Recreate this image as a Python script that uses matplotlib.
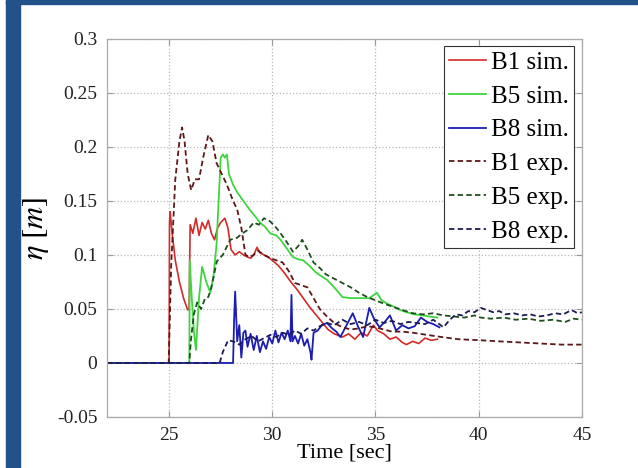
import matplotlib
matplotlib.use("Agg")
import matplotlib.pyplot as plt
from matplotlib.patches import Rectangle

# --- data ---
t_b1_sim = [22, 25.0, 25.02, 25.05, 25.15, 25.3, 25.5, 25.7, 25.9, 25.97, 26.02, 26.15, 26.3, 26.45,
            26.6, 26.75, 26.9, 27.05, 27.2, 27.35, 27.5, 27.7, 27.85, 28.0, 28.2, 28.4, 28.6, 28.8,
            28.95, 29.1, 29.26, 29.4, 29.6, 29.8, 30.0, 30.3, 30.6, 30.9, 31.2, 31.5, 31.8, 32.1,
            32.4, 32.7, 33.0, 33.4, 33.7, 34.0, 34.3, 34.6, 34.9, 35.1, 35.4, 35.7, 36.0, 36.3,
            36.5, 36.8, 37.1, 37.4, 37.7, 38.0]
eta_b1_sim = [0, 0, 0.13, 0.14, 0.12, 0.095, 0.075, 0.06, 0.049, 0.05, 0.128, 0.12, 0.134, 0.118,
              0.13, 0.124, 0.132, 0.12, 0.114, 0.125, 0.13, 0.134, 0.125, 0.105, 0.1, 0.103, 0.1, 0.098,
              0.097, 0.1, 0.107, 0.102, 0.1, 0.098, 0.095, 0.09, 0.083, 0.075, 0.068, 0.06, 0.052, 0.045,
              0.038, 0.031, 0.027, 0.024, 0.027, 0.022, 0.028, 0.025, 0.035, 0.03, 0.027, 0.022, 0.024, 0.019,
              0.017, 0.02, 0.018, 0.023, 0.021, 0.022]

t_b5_sim = [22, 25.98, 26.0, 26.1, 26.2, 26.3, 26.45, 26.6, 26.8, 27.0, 27.15, 27.3, 27.4, 27.5,
            27.6, 27.7, 27.8, 27.9, 28.1, 28.3, 28.6, 28.9, 29.2, 29.4, 29.65, 29.9, 30.2, 30.4,
            30.7, 31.0, 31.25, 31.5, 31.8, 32.1, 32.4, 32.65, 33.0, 33.4, 33.8, 34.25, 34.7, 35.07,
            35.3, 35.56, 35.9, 36.2, 36.5, 36.9, 37.3, 37.6, 38.0]
eta_b5_sim = [0, 0, 0.095, 0.06, 0.03, 0.012, 0.06, 0.089, 0.075, 0.065, 0.08, 0.11, 0.15, 0.19,
              0.193, 0.19, 0.193, 0.175, 0.165, 0.158, 0.15, 0.142, 0.135, 0.13, 0.126, 0.12, 0.118, 0.114,
              0.106, 0.098, 0.096, 0.095, 0.09, 0.084, 0.08, 0.077, 0.07, 0.061, 0.06, 0.06, 0.06, 0.065,
              0.058, 0.055, 0.052, 0.049, 0.047, 0.045, 0.044, 0.043, 0.042]

t_b8_sim = [22, 28.1, 28.15, 28.2, 28.3, 28.4, 28.5, 28.6, 28.7, 28.8, 28.95, 29.1, 29.25, 29.4,
            29.55, 29.7, 29.85, 30.0, 30.15, 30.3, 30.45, 30.6, 30.75, 30.88, 30.93, 30.98, 31.1,
            31.25, 31.4, 31.55, 31.7, 31.85, 31.9, 32.0, 32.2, 32.4, 32.65, 32.9, 33.1, 33.3, 33.6,
            33.9, 34.15, 34.4, 34.7, 34.95, 35.2, 35.45, 35.7, 36.0, 36.3, 36.6, 36.9, 37.2, 37.5,
            37.8, 38.1]
eta_b8_sim = [0, 0, 0.04, 0.066, 0.02, 0.035, 0.005, 0.028, 0.03, 0.015, 0.027, 0.012, 0.025, 0.01,
              0.02, 0.013, 0.024, 0.018, 0.03, 0.019, 0.028, 0.022, 0.03, 0.02, 0.063, 0.02, 0.025,
              0.018, 0.027, 0.016, 0.022, 0.01, 0.003, 0.028, 0.03, 0.035, 0.037, 0.032, 0.029, 0.024, 0.035,
              0.046, 0.034, 0.024, 0.051, 0.04, 0.033, 0.038, 0.044, 0.03, 0.035, 0.032, 0.034, 0.042, 0.038,
              0.036, 0.033]

t_b1_exp = [22, 24.98, 25.1, 25.3, 25.5, 25.63, 25.75, 25.9, 26.07, 26.25, 26.45, 26.65, 26.9, 27.1,
            27.3, 27.5, 27.8, 28.1, 28.3, 28.5, 28.7, 28.9, 29.1, 29.3, 29.6, 29.9, 30.2, 30.5, 30.8,
            31.1, 31.4, 31.7, 32.0, 32.3, 32.65, 33.0, 33.4, 33.8, 34.2, 34.6, 35.0, 35.4, 35.8, 36.3,
            36.8, 37.5, 38.2, 39.0, 40.1, 41.0, 42.0, 43.0, 44.0, 45.0]
eta_b1_exp = [0, 0, 0.09, 0.17, 0.205, 0.218, 0.205, 0.175, 0.16, 0.17, 0.17, 0.19, 0.211, 0.205,
              0.185, 0.177, 0.165, 0.15, 0.142, 0.125, 0.10, 0.098, 0.10, 0.104, 0.10, 0.097, 0.095, 0.093,
              0.085, 0.074, 0.072, 0.07, 0.06, 0.05, 0.043, 0.037, 0.033, 0.031, 0.032, 0.034, 0.033, 0.031,
              0.029, 0.029, 0.028, 0.026, 0.024, 0.022, 0.021, 0.02, 0.019, 0.018, 0.017, 0.017]

t_b5_exp = [22, 25.98, 26.05, 26.2, 26.36, 26.55, 26.75, 26.9, 27.05, 27.31, 27.6, 27.96, 28.3, 28.55,
            28.8, 29.1, 29.35, 29.6, 29.9, 30.2, 30.4, 30.7, 31.0, 31.25, 31.45, 31.7, 32.0, 32.3, 32.6,
            33.0, 33.4, 33.8, 34.2, 34.6, 35.0, 35.4, 35.85, 36.3, 36.8, 37.3, 37.8, 38.3, 38.8, 39.3,
            39.8, 40.1, 40.6, 41.2, 41.8, 42.4, 43.0, 43.6, 44.2, 44.6, 45.0]
eta_b5_exp = [0, 0, 0.02, 0.045, 0.056, 0.05, 0.06, 0.061, 0.07, 0.094, 0.1, 0.114, 0.116, 0.12,
              0.123, 0.13, 0.128, 0.134, 0.131, 0.125, 0.12, 0.112, 0.103, 0.108, 0.114, 0.105, 0.093, 0.088,
              0.082, 0.078, 0.074, 0.07, 0.065, 0.061, 0.058, 0.055, 0.052, 0.049, 0.046, 0.045, 0.046, 0.044,
              0.043, 0.042, 0.044, 0.042, 0.041, 0.042, 0.04, 0.041, 0.039, 0.04, 0.038, 0.041, 0.040]

t_b8_exp = [22, 27.45, 27.6, 27.86, 28.1, 28.4, 28.7, 29.0, 29.3, 29.6, 29.9, 30.2, 30.5, 30.8,
            31.1, 31.4, 31.7, 32.0, 32.3, 32.65, 33.0, 33.4, 33.8, 34.2, 34.6, 35.0, 35.4, 35.8, 36.2,
            36.6, 37.0, 37.4, 37.8, 38.3, 38.6, 38.9, 39.2, 39.5, 39.8, 40.1, 40.4, 40.7, 41.0, 41.3,
            41.7, 42.1, 42.5, 42.9, 43.3, 43.7, 44.1, 44.5, 44.8, 45.0]
eta_b8_exp = [0, 0, 0.01, 0.021, 0.02, 0.017, 0.022, 0.025, 0.02, 0.023, 0.026, 0.024, 0.028, 0.026,
              0.03, 0.027, 0.032, 0.03, 0.034, 0.037, 0.035, 0.04, 0.036, 0.038, 0.035, 0.04, 0.037, 0.039,
              0.036, 0.038, 0.037, 0.036, 0.04, 0.033, 0.04, 0.045, 0.044, 0.048, 0.047, 0.051, 0.049, 0.047,
              0.048, 0.045, 0.046, 0.044, 0.045, 0.043, 0.044, 0.046, 0.045, 0.049, 0.046, 0.047]

x_ticks = [25, 30, 35, 40, 45]
y_ticks = [-0.05, 0, 0.05, 0.1, 0.15, 0.2, 0.25, 0.3]
y_tick_labels = ["-0.05", "0", "0.05", "0.1", "0.15", "0.2", "0.25", "0.3"]

plt.rcParams["font.family"] = ["Liberation Serif", "DejaVu Serif"]
plt.rcParams["mathtext.fontset"] = "stix"

fig = plt.figure(figsize=(6.38, 4.68), dpi=100)
ax = fig.add_axes([0.168, 0.109, 0.744, 0.808])

# sim = solid, exp = dark dashed
ax.plot(t_b1_sim, eta_b1_sim, color="#d42a2a", lw=1.2, label="B1 sim.")
ax.plot(t_b5_sim, eta_b5_sim, color="#3ed63e", lw=1.3, label="B5 sim.")
ax.plot(t_b8_sim, eta_b8_sim, color="#1c1cb0", lw=1.3, label="B8 sim.")
ax.plot(t_b1_exp, eta_b1_exp, color="#5c1818", lw=1.3, ls=(0, (3, 1.8)), label="B1 exp.")
ax.plot(t_b5_exp, eta_b5_exp, color="#1e4e1e", lw=1.3, ls=(0, (3, 1.8)), label="B5 exp.")
ax.plot(t_b8_exp, eta_b8_exp, color="#1c1c55", lw=1.3, ls=(0, (3, 1.8)), label="B8 exp.")

ax.set_xlim(22, 45)
ax.set_ylim(-0.05, 0.3)
ax.set_xticks(x_ticks)
ax.set_yticks(y_ticks)
ax.set_yticklabels(y_tick_labels)
ax.tick_params(direction="in", top=True, right=True, labelsize=14, colors="#222222",
               length=4, pad=7)
ax.tick_params(axis="both", color="#999999")
for s in ax.spines.values():
    s.set_color("#aaaaaa")
    s.set_linewidth(0.9)
ax.grid(True, ls=":", color="#b8b8b8", lw=0.9)

ax.set_xlabel("Time [sec]", fontsize=16, labelpad=0)
ax.set_ylabel(r"$\eta\ [m]$", fontsize=22, labelpad=4)

leg = ax.legend(loc="upper right", fontsize=18, handlelength=1.5, handletextpad=0.2,
                labelspacing=0.45, borderpad=0.2, borderaxespad=0.3, fancybox=False,
                framealpha=1)
leg.get_frame().set_edgecolor("#333333")
leg.get_frame().set_linewidth(0.8)

# dark blue frame on the left and top edges
fig.patches.append(Rectangle((6 / 638, 0), 14 / 638, 1, transform=fig.transFigure,
                             color="#23518a", zorder=10))
fig.patches.append(Rectangle((6 / 638, 1 - 4 / 468), 1, 4 / 468, transform=fig.transFigure,
                             color="#23518a", zorder=10))

fig.savefig("out.png", dpi=100)
